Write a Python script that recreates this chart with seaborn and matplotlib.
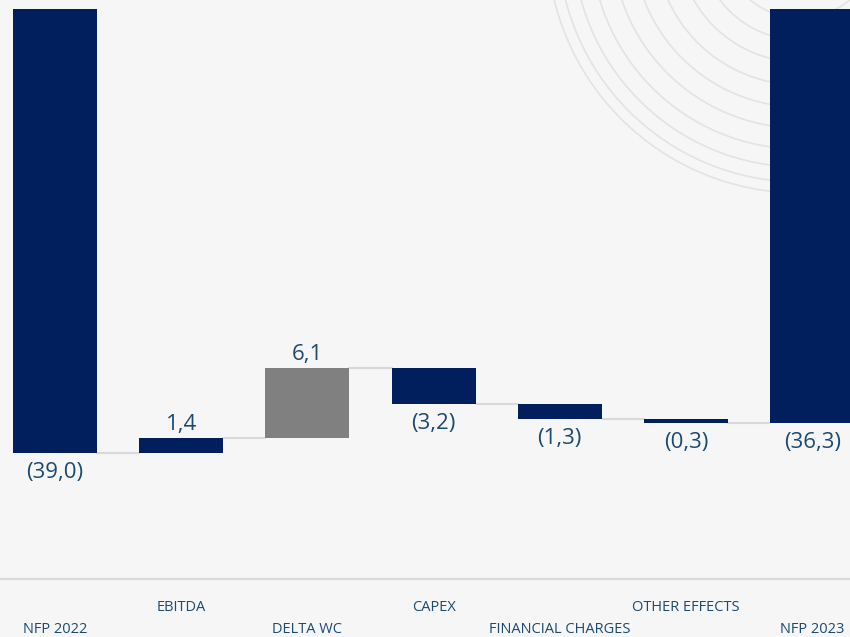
"""
NFP bridge 2022 -> 2023 (waterfall)
"""

import numpy as np
import pandas as pd
import matplotlib
matplotlib.use("Agg")
import matplotlib.pyplot as plt
from matplotlib.patches import Circle
import seaborn as sns

# ========== data ==========
categories = ['NFP 2022', 'EBITDA', 'DELTA WC', 'CAPEX',
              'FINANCIAL CHARGES', 'OTHER EFFECTS', 'NFP 2023']
values = [-39.0, 1.4, 6.1, -3.2, -1.3, -0.3, -36.3]
is_total = [True, False, False, False, False, False, True]

# ========== colors ==========
bg = '#f6f6f6'
navy = '#001f5c'
grey = '#808080'
txt = '#1b4a72'
line_c = '#d9d9d9'

# ========== waterfall geometry ==========
bottoms, heights, ends = [], [], []
run = 0.0
for v, tot in zip(values, is_total):
    if tot:
        bottoms.append(0.0)
        heights.append(v)
        run = v
    else:
        bottoms.append(run)
        heights.append(v)
        run = run + v
    ends.append(run)

df = pd.DataFrame({'cat': categories, 'height': heights})

sns.set_theme(style='white')
plt.rcParams['font.family'] = ['Open Sans', 'DejaVu Sans']

fig = plt.figure(figsize=(8.5, 6.37), dpi=100, facecolor=bg)

# background decoration (arcs in pixel coords)
bg_ax = fig.add_axes([0, 0, 1, 1], zorder=0)
bg_ax.set_xlim(0, 850)
bg_ax.set_ylim(637, 0)
bg_ax.axis('off')
for r in [253, 242, 227, 209, 188, 167, 145, 122, 100, 78, 56]:
    bg_ax.add_patch(Circle((800, -60), r, fill=False, ec='#e3e3e3', lw=1.2))

ax = fig.add_axes([0, 58 / 637, 1, 579 / 637], zorder=1)
ax.patch.set_alpha(0)

sns.barplot(data=df, x='cat', y='height', bottom=bottoms, width=0.666,
            color=navy, saturation=1, errorbar=None, ax=ax)
for p, v, tot in zip(ax.patches, values, is_total):
    p.set_edgecolor('none')
    if not tot and v > 5:
        p.set_facecolor(grey)

# connectors
w = 0.666
for i in range(len(values) - 1):
    ax.plot([i + w / 2, i + 1 - w / 2], [ends[i], ends[i]],
            color=line_c, lw=1.5, zorder=0)

# value labels
for i, (v, b, e) in enumerate(zip(values, bottoms, ends)):
    lab = f"{abs(v):.1f}".replace('.', ',')
    if v < 0:
        lab = f"({lab})"
        ypos = min(b, e) if not is_total[i] else v
        ax.annotate(lab, (i, ypos), xytext=(0, -14), textcoords='offset points',
                    ha='center', va='center', fontsize=16, color=txt)
    else:
        ax.annotate(lab, (i, max(b, e)), xytext=(0, 9.5), textcoords='offset points',
                    ha='center', va='center', fontsize=16, color=txt)

# category labels, staggered
tr = ax.get_xaxis_transform()
for i, c in enumerate(categories):
    yy = -0.088 if i % 2 == 0 else -0.050
    ax.text(i, yy, c, transform=tr, ha='center', va='center',
            fontsize=10.5, color=txt)

ax.set_xlim(-0.436, 6.30)
ax.set_ylim(-50, 0.745)
ax.set_xticks([])
ax.set_yticks([])
ax.set_xlabel('')
ax.set_ylabel('')
for s in ['top', 'left', 'right']:
    ax.spines[s].set_visible(False)
ax.spines['bottom'].set_color(line_c)
ax.spines['bottom'].set_linewidth(1.5)

fig.savefig('out.png', dpi=100, facecolor=bg)
